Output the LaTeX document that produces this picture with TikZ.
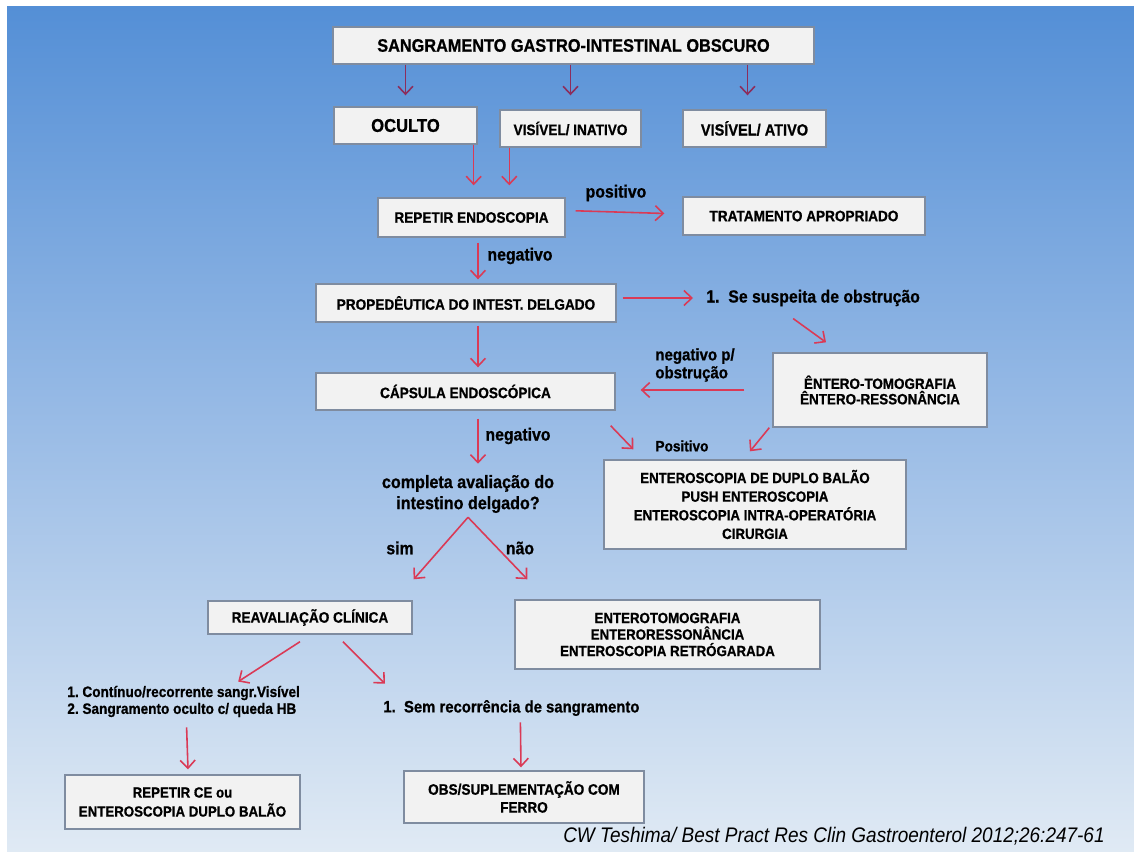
\documentclass[tikz,border=0pt]{standalone}
\usepackage{fontspec}
\setmainfont{Liberation Sans}[FakeStretch=0.9,BoldFeatures={FakeBold=0.8}]
\usepackage{tikz}
\usetikzlibrary{arrows.meta}
\definecolor{boxfill}{HTML}{F2F2F2}
\definecolor{boxline}{HTML}{7F8CA0}
\definecolor{arrtop}{HTML}{8C2D5C}
\definecolor{arrred}{HTML}{DA3A56}
\definecolor{bgtop}{HTML}{548FD6}
\definecolor{bgmid}{HTML}{9ABCE6}
\definecolor{bgbot}{HTML}{E0EAF4}
\AtBeginDocument{\frenchspacing}

\begin{document}
\begin{tikzpicture}[x=0.02cm,y=-0.02cm,
    box/.style={draw=boxline,fill=boxfill,line width=0.8pt,inner sep=0pt,align=center,font=\bfseries\fontsize{8.6}{10.6}\selectfont},
    lbl/.style={inner sep=0pt,font=\bfseries\fontsize{10}{12}\selectfont},
    arr/.style={draw=arrred,line width=0.9pt,-{Straight Barb[length=4.5pt,width=8.5pt]}},
    arrt/.style={arr,draw=arrtop}]
  \useasboundingbox (0,0) rectangle (1134,852);
  \fill[white] (0,0) rectangle (1134,852);
  \shade[top color=bgtop,bottom color=bgbot,middle color=bgmid] (7,6) rectangle (1134,852);

  \node[box,minimum width=9.62cm,minimum height=0.74cm,font=\bfseries\fontsize{10.3}{12}\selectfont] (sgio) at (573.5,45.5) {SANGRAMENTO GASTRO-INTESTINAL OBSCURO};
  \node[box,minimum width=2.86cm,minimum height=0.74cm,font=\bfseries\fontsize{10.5}{12}\selectfont] (oculto) at (405.5,125.5) {OCULTO};
  \node[box,minimum width=2.82cm,minimum height=0.74cm] (inativo) at (570.5,128.5) {VISÍVEL/ INATIVO};
  \node[box,minimum width=2.86cm,minimum height=0.74cm,font=\bfseries\fontsize{9.2}{11}\selectfont] (ativo) at (754.5,128.5) {VISÍVEL/ ATIVO};
  \node[box,minimum width=3.74cm,minimum height=0.78cm] (repetir) at (471.5,217.5) {REPETIR ENDOSCOPIA};
  \node[box,minimum width=4.84cm,minimum height=0.76cm] (tratam) at (804,216) {TRATAMENTO APROPRIADO};
  \node[box,minimum width=6cm,minimum height=0.76cm] (proped) at (466,303) {PROPEDÊUTICA DO INTEST. DELGADO};
  \node[box,minimum width=4.28cm,minimum height=1.48cm,font=\bfseries\fontsize{8.5}{8.8}\selectfont] (entero) at (880,390) {ÊNTERO-TOMOGRAFIA\\ÊNTERO-RESSONÂNCIA};
  \node[box,minimum width=5.98cm,minimum height=0.74cm] (capsula) at (465.5,391.5) {CÁPSULA ENDOSCÓPICA};
  \node[box,minimum width=6.04cm,minimum height=1.78cm,font=\bfseries\fontsize{8.4}{10.6}\selectfont] (entdb) at (755,504.5) {ENTEROSCOPIA DE DUPLO BALÃO\\PUSH ENTEROSCOPIA\\ENTEROSCOPIA INTRA-OPERATÓRIA\\CIRURGIA};
  \node[box,minimum width=4.08cm,minimum height=0.66cm] (reaval) at (310,617.5) {REAVALIAÇÃO CLÍNICA};
  \node[box,minimum width=6.10cm,minimum height=1.38cm,font=\bfseries\fontsize{8.4}{9.4}\selectfont] (enttomo) at (667.5,634.5) {ENTEROTOMOGRAFIA\\ENTERORESSONÂNCIA\\ENTEROSCOPIA RETRÓGARADA};
  \node[box,minimum width=4.70cm,minimum height=1.08cm,font=\bfseries\fontsize{8.4}{10.8}\selectfont] (repce) at (182.5,802) {REPETIR CE ou\\ENTEROSCOPIA DUPLO BALÃO};
  \node[box,minimum width=4.80cm,minimum height=1.04cm,font=\bfseries\fontsize{8.6}{10.2}\selectfont] (obs) at (524,797) {OBS/SUPLEMENTAÇÃO COM\\FERRO};

  \node[lbl] (pos) at (616,193) {positivo};
  \node[lbl] (neg) at (520,256) {negativo};
  \node[lbl,anchor=west] (susp) at (706,298) {1.\ \ Se suspeita de obstrução};
  \node[lbl,align=left,font=\bfseries\fontsize{9.5}{10.2}\selectfont] (negobs) at (695,365) {negativo p/\\obstrução};
  \node[lbl] (neg2) at (518,436) {negativo};
  \node[lbl,font=\bfseries\fontsize{8.6}{10}\selectfont] (pos2) at (682,446) {Positivo};
  \node[lbl,align=center,font=\bfseries\fontsize{10.2}{12}\selectfont] (quest) at (468,494) {completa avaliação do\\intestino delgado?};
  \node[lbl] (sim) at (400,548) {sim};
  \node[lbl] (nao) at (520,548) {não};
  \node[lbl,anchor=west,align=left,font=\bfseries\fontsize{8.6}{9.6}\selectfont] (recorr) at (67,701.5) {1. Contínuo/recorrente sangr.Visível\\2. Sangramento oculto c/ queda HB};
  \node[lbl,anchor=west,font=\bfseries\fontsize{9.4}{11}\selectfont] (semrec) at (383,708) {1.\ \ Sem recorrência de sangramento};
  \node[inner sep=0pt,anchor=east,font=\itshape\fontsize{12}{14}\selectfont] (cite) at (1105,836) {CW Teshima/ Best Pract Res Clin Gastroenterol 2012;26:247-61};

  \draw[arrt,shorten >=0.22cm] (sgio.south -| oculto.north) -- (oculto.north);
  \draw[arrt,shorten >=0.28cm] (sgio.south -| inativo.north) -- (inativo.north);
  \draw[arrt,shorten >=0.28cm] ([xshift=-0.14cm]ativo.north |- sgio.south) -- ([xshift=-0.14cm]ativo.north);
  \draw[arr,shorten >=0.24cm] ([xshift=-0.08cm]oculto.south east) -- ([xshift=-0.08cm]oculto.south east |- repetir.north);
  \draw[arr,shorten >=0.24cm] ([xshift=0.2cm]inativo.south west) -- ([xshift=0.2cm]inativo.south west |- repetir.north);
  \draw[arr,shorten <=0.2cm,shorten >=0.36cm] ([yshift=0.14cm]repetir.east) -- ([yshift=0.04cm]tratam.west);
  \draw[arr,shorten <=0.1cm,shorten >=0.08cm] ([xshift=0.13cm]repetir.south) -- ([xshift=0.13cm]repetir.south |- proped.north);
  \draw[arr,shorten <=0.12cm,shorten >=0.26cm] (proped.east |- susp.west) -- (susp.west);
  \draw[arr] ([shift={(-20,12)}]susp.south) -- ([shift={(-54,-10)}]entero.north);
  \draw[arr,shorten <=0.56cm,shorten >=0.5cm] (entero.west) -- (entero.west -| capsula.east);
  \draw[arr,shorten <=0.06cm,shorten >=0.1cm] ([xshift=0.24cm]proped.south) -- ([xshift=0.24cm]proped.south |- capsula.north);
  \draw[arr,shorten <=0.16cm,shorten >=0.22cm] ([xshift=0.25cm]capsula.south) -- ([xshift=0.25cm]capsula.south |- quest.north);
  \draw[arr] ([shift={(-5,15)}]capsula.south east) -- ([shift={(30,-10)}]entdb.north west);
  \draw[arr] ([shift={(-3,0)}]entero.south west) -- ([shift={(-5,-8)}]entdb.north);
  \coordinate (apex) at ([shift={(0,4)}]quest.south);
  \draw[arr] (apex) -- ([shift={(1,-21)}]reaval.north east);
  \draw[arr] (apex) -- ([shift={(13,-20)}]enttomo.north west);
  \draw[arr] ([shift={(-10,7)}]reaval.south) -- ([shift={(-62,-4)}]recorr.north east);
  \draw[arr] ([shift={(33,7)}]reaval.south) -- ([shift={(2,-16)}]semrec.north west);
  \draw[arr] ([shift={(3,10)}]recorr.south) -- ([shift={(5.5,-5)}]repce.north);
  \draw[arr] ([shift={(9,6)}]semrec.south) -- ([shift={(-3,-3)}]obs.north);
\end{tikzpicture}
\end{document}
